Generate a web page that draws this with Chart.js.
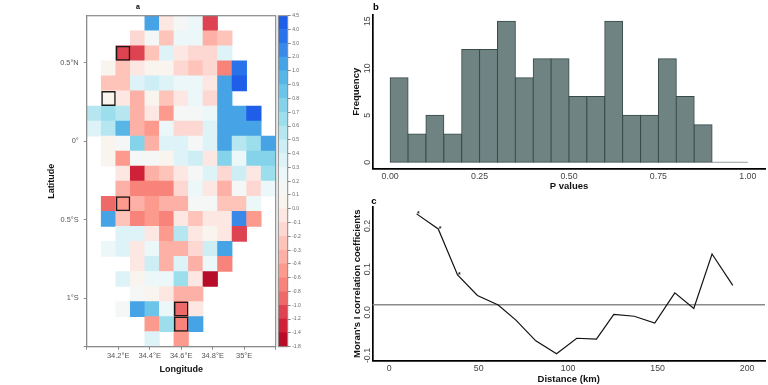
<!DOCTYPE html>
<html><head><meta charset="utf-8">
<style>html,body{margin:0;padding:0;background:#fff;width:768px;height:385px;overflow:hidden}canvas{position:absolute}</style>
<script src="https://cdn.jsdelivr.net/npm/chart.js@4"></script>
</head><body>
<canvas id="a" style="left:40px;top:0" width="240" height="385"></canvas>
<canvas id="k" style="left:276px;top:0" width="54" height="385"></canvas>
<canvas id="b" style="left:345px;top:0" width="423" height="192"></canvas>
<canvas id="c" style="left:345px;top:192px" width="423" height="193"></canvas>
<script>
// ---- panel a data
const _ = null;
const MAP_VALUES = [
 [_,_,_,_,1.5,-.05,.15,.25,-1.1,_,_,_,_],
 [_,_,_,-.15,.15,-.25,.25,.25,-.35,-.25,_,_,_],
 [_,_,-1.1,-1.1,-.25,.35,-.05,-.15,-.15,.35,_,_,_],
 [_,.05,-.25,-.05,.05,.05,-.15,-.25,-.15,-.7,3.5,_,_],
 [_,-.25,-.25,.35,.45,.35,.25,.25,-.05,1.5,4.2,_,_],
 [_,.05,-.05,-.35,.05,-.25,-.05,.25,-.15,1.5,_,_,_],
 [.55,.65,.55,-.35,-.05,-.5,.15,.15,.25,1.5,1.5,4.2,_],
 [.35,.55,.95,-.3,-.5,.25,-.15,-.15,.35,1.5,1.5,1.5,_],
 [_,.05,.15,.75,-.35,.35,.35,.15,.35,1.5,.55,.65,1.5],
 [_,.05,-.5,.15,.15,.05,.35,.45,-.05,.75,.25,.75,.75],
 [_,_,-.05,-1.3,-.35,-.25,-.05,.15,.35,-.15,.45,-.05,.65],
 [_,_,-.35,-.7,-.7,-.7,-.15,.25,-.05,-.35,.15,-.15,.25],
 [_,-.9,-.5,-.35,-.5,-.35,-.35,.15,.15,-.25,-.25,.25,_],
 [_,1.5,-.25,-.7,-.5,-.7,-.05,-.25,-.05,-.05,2.5,-.5,_],
 [_,_,.35,.35,-.05,-.5,.55,-.05,.05,-.05,-1.1,_,_],
 [_,.25,.35,-.05,.25,-.35,-.35,-.15,.45,1.5,_,_,_],
 [_,_,_,-.05,.45,-.35,.35,-.35,.25,-.7,_,_,_],
 [_,_,.35,.05,.25,.25,.7,-.05,-1.5,_,_,_,_],
 [_,_,_,.15,.05,-.05,-.35,-.35,_,_,_,_,_],
 [_,_,.15,1.5,.85,.25,-.9,-.05,_,_,_,_,_],
 [_,_,_,_,-.5,.65,-.7,1.5,_,_,_,_,_],
 [_,_,_,_,.35,_,-.5,_,_,_,_,_,_]
];
const HOTSPOTS = [[2,2],[5,1],[12,2],[19,6],[20,6]];
const LON_MIN = 34, LON_MAX = 35.2, LAT_MAX = 0.8, LAT_MIN = -1.31;
const LON_TICKS = [34,34.2,34.4,34.6,34.8,35,35.2];
const LON_LABELS = ['','34.2°E','34.4°E','34.6°E','34.8°E','35°E',''];
const LAT_TICKS = [0.5,0,-0.5,-1,-1.31];
const LAT_LABELS = ['0.5°N','0°','0.5°S','1°S',''];
const LEGEND_LEVELS = [4.5,4,3,2,1,.9,.8,.7,.6,.5,.4,.3,.2,.1,0,-.1,-.2,-.3,-.4,-.6,-.8,-1,-1.2,-1.4,-1.8];
const LEGEND_LABELS = ['4.5','4.0','3.0','2.0','1.0','0.9','0.8','0.7','0.6','0.5','0.4','0.3','0.2','0.1','0.0','-0.1','-0.2','-0.3','-0.4','-0.6','-0.8','-1.0','-1.2','-1.4','-1.8'];
const LEGEND_COLORS = ['#1f5ee8','#2a72ea','#3a88e8','#46a3e6','#58b6e6','#6cc5e8','#85d3ea','#9cdeec','#b6e7f0','#cdeef4','#def3f7','#ecf7fa','#f5f7f6','#faf4ef','#fde7e2','#fdd7d1','#fec4ba','#fdb0a5','#fc9a8e','#f8837a','#ee6a68','#dd4350','#cf2238','#b70d28'];
// ---- panel b data
const HIST_COUNTS = [9,3,5,3,12,12,15,9,11,11,7,7,15,5,5,11,7,4];
const HIST_EMPTY = [0.9,1.0];
const HIST_TICKS = [0,0.25,0.5,0.75,1];
// ---- panel c data
const DISTANCE = [15.3,27.4,38.2,49.3,60.9,70.8,81.9,93.5,104.8,115.8,125.5,136.9,148.4,159.6,170.2,180.4,192];
const MORAN_I = [.228,.193,.0865,.039,.017,-.018,-.066,-.096,-.060,-.062,-.005,-.009,-.025,.045,.009,.135,.0625];
const SIGNIFICANT = [0,1,2];
const REFERENCE_I = 0.0176;

const FONT = 'Liberation Sans, Arial, sans-serif';
Chart.defaults.font.family = FONT;
Chart.defaults.animation = false;
Chart.defaults.responsive = false;
Chart.defaults.plugins.legend.display = false;
Chart.defaults.plugins.tooltip.enabled = false;

function colorFor(v){
  for(let i=0;i<LEGEND_COLORS.length;i++){ if(v<=LEGEND_LEVELS[i] && v>LEGEND_LEVELS[i+1]) return LEGEND_COLORS[i]; }
  return LEGEND_COLORS[LEGEND_COLORS.length-1];
}
const cols = MAP_VALUES[0].length, rows = MAP_VALUES.length;
const lonOf = c => LON_MIN+(c+.5)*(LON_MAX-LON_MIN)/cols;
const latSpan = r => [LAT_MAX-(r+1)*(LAT_MAX-LAT_MIN)/rows, LAT_MAX-r*(LAT_MAX-LAT_MIN)/rows];
const cells = [];
MAP_VALUES.forEach((row,r)=>row.forEach((v,c)=>{ if(v!==null) cells.push({x:lonOf(c),y:latSpan(r),v}); }));

const frame = {id:'frame',afterDatasetsDraw(ch,args,o){
  if(!o.color) return;
  const a=ch.chartArea,ctx=ch.ctx;ctx.save();ctx.strokeStyle=o.color;ctx.lineWidth=o.width||1.2;
  ctx.strokeRect(a.left,a.top,a.right-a.left,a.bottom-a.top);ctx.restore();}};
const letter = {id:'letter',afterDraw(ch,args,o){
  if(!o.text) return;
  const ctx=ch.ctx;ctx.save();ctx.fillStyle='#000';ctx.font=o.font;ctx.textAlign='center';ctx.textBaseline='middle';
  ctx.fillText(o.text,o.x,o.y);ctx.restore();}};
const stars = {id:'stars',afterDatasetsDraw(ch,args,o){
  if(!o.points) return;
  const m=ch.getDatasetMeta(0),ctx=ch.ctx;ctx.save();ctx.fillStyle='#222';ctx.font='bold 7px '+FONT;ctx.textAlign='center';ctx.textBaseline='middle';
  o.points.forEach(i=>ctx.fillText('*',m.data[i].x+1.8,m.data[i].y-0.2));ctx.restore();}};
Chart.register(frame,letter,stars);

const fit = (w,h)=>s=>{ if(w!==undefined) s.width=w; if(h!==undefined) s.height=h; };
const grey='#8a8a8a';

new Chart(document.getElementById('a'),{
  type:'bar',
  data:{datasets:[
    {data:HOTSPOTS.map(([r,c])=>({x:lonOf(c),y:latSpan(r)})),backgroundColor:'rgba(0,0,0,0)',borderColor:'#1a1a1a',borderWidth:1.5,borderSkipped:false,inflateAmount:0,order:0},
    {data:cells,backgroundColor:c=>colorFor(c.raw.v),borderWidth:0,order:1}
  ]},
  options:{
    layout:{padding:{top:15.7,right:4.3}},
    datasets:{bar:{grouped:false,barPercentage:1,categoryPercentage:1}},
    plugins:{frame:{color:grey},letter:{text:'a',x:98,y:7,font:'bold 7px '+FONT}},
    scales:{
      x:{type:'linear',offset:false,min:LON_MIN,max:LON_MAX,afterFit:fit(undefined,38.3),
        afterBuildTicks:s=>{s.ticks=LON_TICKS.map(value=>({value}));},
        border:{color:grey},grid:{drawOnChartArea:false,offset:false,color:grey,tickLength:3},
        ticks:{autoSkip:false,maxRotation:0,minRotation:0,padding:2,color:'#555',font:{size:7.5},callback:(v)=>LON_LABELS[LON_TICKS.indexOf(v)]},
        title:{display:true,text:'Longitude',color:'#111',font:{size:9,weight:'bold'},padding:{top:2,bottom:10}}},
      y:{type:'linear',min:LAT_MIN,max:LAT_MAX,afterFit:fit(46.7),
        afterBuildTicks:s=>{s.ticks=LAT_TICKS.map(value=>({value}));},
        border:{color:grey},grid:{drawOnChartArea:false,color:grey,tickLength:3},
        ticks:{autoSkip:false,padding:5,color:'#555',font:{size:7.4},callback:(v)=>LAT_LABELS[LAT_TICKS.indexOf(v)]},
        title:{display:true,text:'Latitude',color:'#111',font:{size:9,weight:'bold'},padding:{top:6,bottom:0}}}
    }
  }
});

new Chart(document.getElementById('k'),{
  type:'bar',
  data:{labels:['k'],datasets:[{data:LEGEND_COLORS.map((_c,i)=>({x:'k',y:[i,i+1]})),backgroundColor:LEGEND_COLORS,borderWidth:0}]},
  options:{
    layout:{padding:{top:15.7,bottom:38.3,left:2.3,right:0}},
    datasets:{bar:{barPercentage:1,categoryPercentage:1}},
    plugins:{frame:{color:grey,width:1}},
    scales:{
      x:{display:false},
      y:{position:'right',min:0,max:24,reverse:true,afterFit:fit(42.3),
        afterBuildTicks:s=>{s.ticks=LEGEND_LABELS.map((_l,i)=>({value:i}));},
        border:{display:false},grid:{drawOnChartArea:false,color:grey,tickLength:3},
        ticks:{autoSkip:false,padding:1.5,color:'#666',font:{size:5},callback:v=>LEGEND_LABELS[v]}}
    }
  }
});

const rotatedY = {autoSkip:false,minRotation:90,maxRotation:90,crossAlign:'center',color:'#444',font:{size:8.8}};

new Chart(document.getElementById('b'),{
  data:{datasets:[
    {type:'bar',data:HIST_COUNTS.map((n,i)=>({x:(i+.5)*.05,y:n})),backgroundColor:'#6f8383',borderColor:'#3a4a4a',borderWidth:1,borderSkipped:false,inflateAmount:0.5,barPercentage:1,categoryPercentage:1},
    {type:'line',data:HIST_EMPTY.map(x=>({x,y:0})),borderColor:'#7a8888',borderWidth:.8,pointRadius:0}
  ]},
  options:{
    layout:{padding:{top:15,right:3}},
    plugins:{letter:{text:'b',x:31,y:7.3,font:'bold 9.5px '+FONT}},
    scales:{
      x:{type:'linear',offset:false,min:-0.048,max:1.048,afterFit:fit(undefined,23.4),
        afterBuildTicks:s=>{s.ticks=HIST_TICKS.map(value=>({value}));},
        border:{color:'#000',width:1.7},grid:{display:false,offset:false,drawTicks:false},
        ticks:{autoSkip:false,maxRotation:0,minRotation:0,padding:3,color:'#444',font:{size:8.8},callback:v=>v.toFixed(2)},
        title:{display:true,text:'P values',color:'#111',font:{size:9.5,weight:'bold'},padding:{top:1,bottom:0}}},
      y:{type:'linear',min:-0.67,max:15.66,afterFit:fit(28),
        afterBuildTicks:s=>{s.ticks=[0,5,10,15].map(value=>({value}));},
        border:{color:'#000',width:1.7},grid:{display:false,drawTicks:false},
        ticks:{...rotatedY,padding:1},
        title:{display:true,text:'Frequency',color:'#111',font:{size:9.5,weight:'bold'},padding:{top:6,bottom:0}}}
    }
  }
});

new Chart(document.getElementById('c'),{
  type:'line',
  data:{datasets:[
    {data:DISTANCE.map((x,i)=>({x,y:MORAN_I[i]})),borderColor:'#111',borderWidth:1.2,pointRadius:0,tension:0,order:0},
    {data:[{x:-9.4,y:REFERENCE_I},{x:210,y:REFERENCE_I}],borderColor:'#8a8a8a',borderWidth:1.4,pointRadius:0,order:1}
  ]},
  options:{
    layout:{padding:{top:14.7,right:3}},
    plugins:{letter:{text:'c',x:29,y:9,font:'bold 9.5px '+FONT},stars:{points:SIGNIFICANT}},
    scales:{
      x:{type:'linear',min:-9.4,max:210,afterFit:fit(undefined,24.3),
        afterBuildTicks:s=>{s.ticks=[0,50,100,150,200].map(value=>({value}));},
        border:{color:'#000',width:1.7},grid:{display:false,drawTicks:false},
        ticks:{autoSkip:false,maxRotation:0,minRotation:0,padding:2.5,color:'#444',font:{size:8.8}},
        title:{display:true,text:'Distance (km)',color:'#111',font:{size:9.5,weight:'bold'},padding:{top:0,bottom:0}}},
      y:{type:'linear',min:-0.112,max:0.2446,afterFit:fit(27.4),
        afterBuildTicks:s=>{s.ticks=[-.1,0,.1,.2].map(value=>({value}));},
        border:{color:'#000',width:1.7},grid:{display:false,drawTicks:false},
        ticks:{...rotatedY,padding:-3,callback:v=>v.toFixed(1)},
        title:{display:true,text:"Moran's I correlation coefficients",color:'#111',font:{size:9.5,weight:'bold'},padding:{top:6.6,bottom:0}}}
    }
  }
});
</script>
</body></html>
